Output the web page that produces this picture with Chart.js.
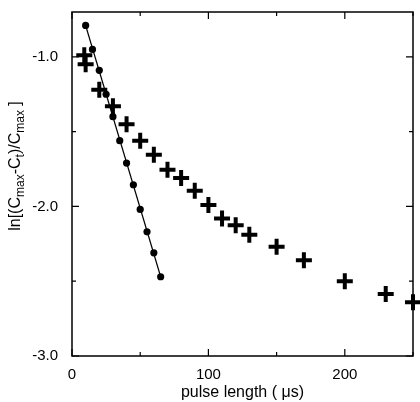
<!DOCTYPE html>
<html>
<head>
<meta charset="utf-8">
<script src="https://cdn.jsdelivr.net/npm/chart.js@4.4.1/dist/chart.umd.min.js"></script>
<style>
  html, body { margin: 0; padding: 0; background: #fff; }
  #wrap { width: 420px; height: 402px; }
</style>
</head>
<body>
<div id="wrap"><canvas id="c" width="420" height="402"></canvas></div>
<script>
/* ---- data ---- */
var dotX = [10, 15, 20, 25, 30, 35, 40, 45, 50, 55, 60, 65];
var dotY = [-0.79, -0.95, -1.09, -1.25, -1.40, -1.56, -1.71, -1.855, -2.02, -2.17, -2.31, -2.47];
var fitX = [10, 65];
var fitY = [-0.79, -2.47];
var crossX = [9, 10, 20, 30, 40, 50, 60, 70, 80, 90, 100, 110, 120, 130, 150, 170, 200, 230, 250];
var crossY = [-0.99, -1.05, -1.22, -1.33, -1.45, -1.56, -1.655, -1.755, -1.81, -1.895, -1.99, -2.08, -2.125, -2.19, -2.27, -2.36, -2.50, -2.585, -2.64];
var xTicks = [0, 50, 100, 150, 200, 250];
var xLabels = ['0', '', '100', '', '200', ''];
var yTicks = [-3.0, -2.5, -2.0, -1.5, -1.0];
var yLabels = ['-3.0', '', '-2.0', '', '-1.0'];

var FONT = '"Liberation Sans", Arial, Helvetica, sans-serif';

function pts(xs, ys) {
    return xs.map(function (x, i) { return { x: x, y: ys[i] }; });
}

/* frame + inward ticks on all four sides */
var framePlugin = {
    id: 'frame',
    beforeDatasetsDraw: function (chart) {
        var ctx = chart.ctx, a = chart.chartArea;
        var sx = chart.scales.x, sy = chart.scales.y;
        ctx.save();
        ctx.strokeStyle = '#000';
        ctx.lineWidth = 1.5;
        ctx.strokeRect(a.left, a.top, a.right - a.left, a.bottom - a.top);
        ctx.lineWidth = 1.2;
        ctx.beginPath();
        xTicks.forEach(function (v, i) {
            var px = sx.getPixelForValue(v);
            var len = xLabels[i] ? 7 : 4;
            ctx.moveTo(px, a.bottom); ctx.lineTo(px, a.bottom - len);
            ctx.moveTo(px, a.top); ctx.lineTo(px, a.top + len);
        });
        yTicks.forEach(function (v, i) {
            var py = sy.getPixelForValue(v);
            var len = yLabels[i] ? 7 : 4;
            ctx.moveTo(a.left, py); ctx.lineTo(a.left + len, py);
            ctx.moveTo(a.right, py); ctx.lineTo(a.right - len, py);
        });
        ctx.stroke();
        ctx.restore();
    }
};

/* rotated y title with subscripts */
var yTitlePlugin = {
    id: 'ytitle',
    afterDraw: function (chart) {
        var ctx = chart.ctx;
        var parts = [
            ['ln[(C', 0], ['max', 1], ['-C', 0], ['t', 1],
            [')/C', 0], ['max', 1], [' ]', 0]
        ];
        var big = '16px ' + FONT, small = '12px ' + FONT;
        ctx.save();
        var total = 0;
        parts.forEach(function (p) {
            ctx.font = p[1] ? small : big;
            total += ctx.measureText(p[0]).width;
        });
        ctx.translate(20, 166);
        ctx.rotate(-Math.PI / 2);
        ctx.fillStyle = '#000';
        var x = -total / 2;
        parts.forEach(function (p) {
            ctx.font = p[1] ? small : big;
            ctx.fillText(p[0], x, p[1] ? 4 : 0);
            x += ctx.measureText(p[0]).width;
        });
        ctx.restore();
    }
};

new Chart(document.getElementById('c'), {
    type: 'scatter',
    data: {
        datasets: [
            { data: pts(fitX, fitY), showLine: true, borderColor: '#000', borderWidth: 1.2, pointRadius: 0, clip: false },
            { data: pts(dotX, dotY), pointStyle: 'circle', pointRadius: 3.6, backgroundColor: '#000', borderColor: '#000', borderWidth: 0, clip: false },
            { data: pts(crossX, crossY), pointStyle: 'cross', pointRadius: 8, borderColor: '#000', borderWidth: 4, clip: false }
        ]
    },
    options: {
        responsive: false,
        animation: false,
        layout: { autoPadding: false, padding: { top: 12, right: 7, left: 0, bottom: 0 } },
        plugins: { legend: { display: false }, tooltip: { enabled: false } },
        scales: {
            x: {
                type: 'linear', min: 0, max: 250,
                grid: { display: false }, border: { display: false },
                afterBuildTicks: function (s) { s.ticks = xTicks.map(function (v) { return { value: v }; }); },
                afterFit: function (s) { s.height = 46; s.paddingLeft = 0; s.paddingRight = 0; },
                ticks: { color: '#000', font: { family: FONT, size: 15 }, padding: 2, maxRotation: 0, autoSkip: false,
                         callback: function (v, i) { return xLabels[i]; } },
                title: { display: true, text: 'pulse length ( \u03bcs)', color: '#000', font: { family: FONT, size: 16 }, padding: { top: 0, bottom: 0 } }
            },
            y: {
                type: 'linear', min: -3.0, max: -0.7,
                grid: { display: false }, border: { display: false },
                afterBuildTicks: function (s) { s.ticks = yTicks.map(function (v) { return { value: v }; }); },
                afterFit: function (s) { s.width = 72; s.paddingTop = 0; s.paddingBottom = 0; },
                ticks: { color: '#000', font: { family: FONT, size: 15 }, padding: 6, autoSkip: false,
                         callback: function (v, i) { return yLabels[i]; } }
            }
        }
    },
    plugins: [framePlugin, yTitlePlugin]
});
</script>
</body>
</html>
